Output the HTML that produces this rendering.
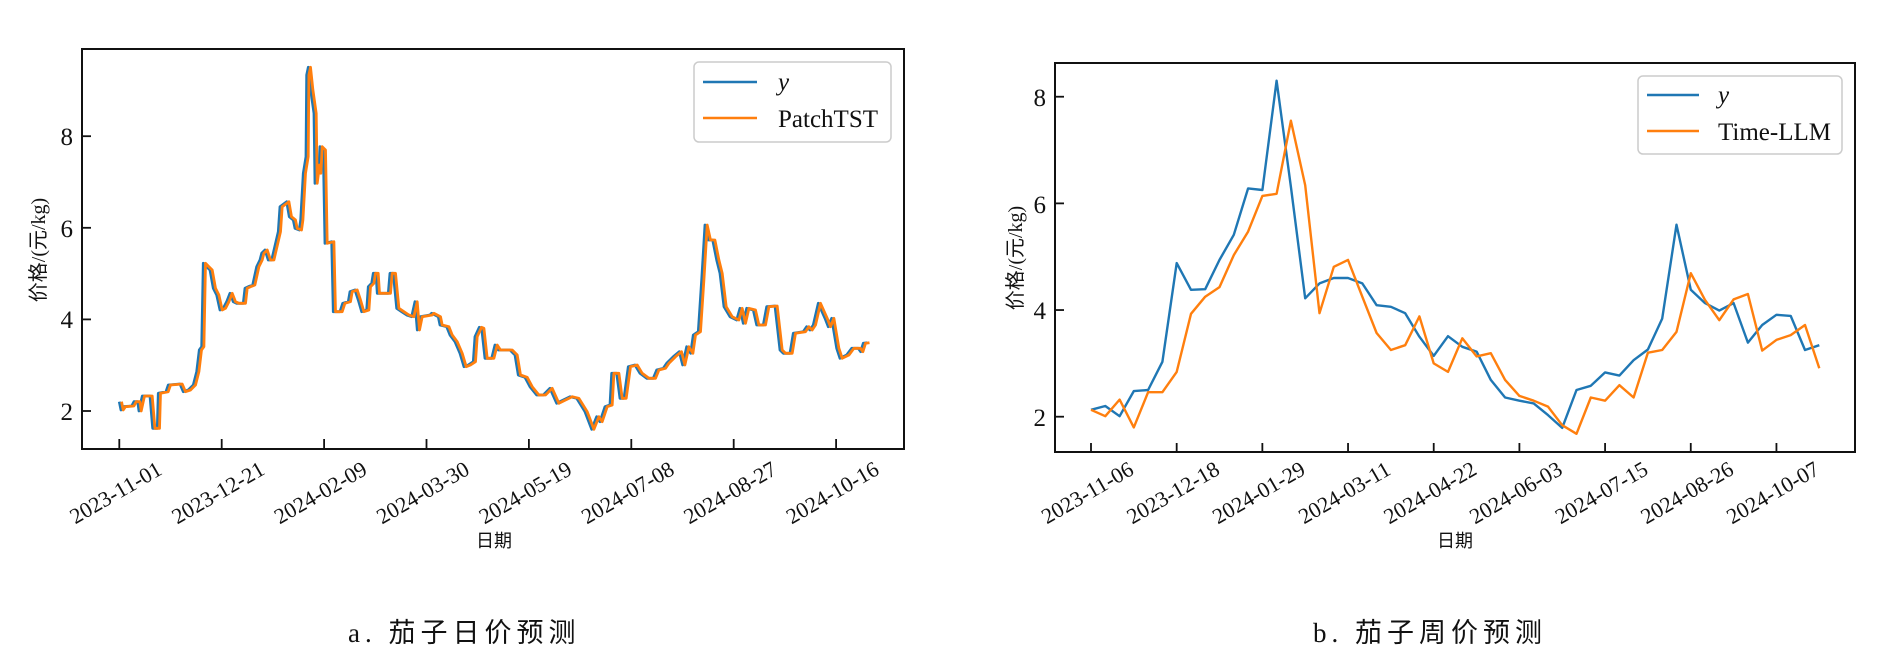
<!DOCTYPE html>
<html><head><meta charset="utf-8">
<style>
html,body{margin:0;padding:0;background:#fff;}
svg{display:block;}
text{font-family:"Liberation Serif","Noto Serif CJK SC",serif;fill:#111;}
.cjk{font-family:"Liberation Serif","Noto Sans CJK SC",sans-serif;}
</style></head>
<body>
<svg id="s" width="1883" height="671" viewBox="0 0 1883 671" xmlns="http://www.w3.org/2000/svg">
<rect width="1883" height="671" fill="#fff"/>
<g id="L">
<polyline id="lb" fill="none" stroke="#1f77b4" stroke-width="2.8" stroke-linejoin="round" points="119.3,401.7 121,410 123.3,406.7 131.7,406 134,401.7 137.7,401.7 139,411 142.3,396 150,396 152.7,428.3 157.3,428.3 158.3,393.3 166,391.7 168.3,385 180,384 183.3,391.7 188.3,390 193.3,385 196.7,371.7 199.3,350 201.7,346.7 203.3,263.3 206.7,266.7 210,270 213.3,288.3 216.7,295 220,310 223.3,308.3 226.7,301.7 230,293.3 233.3,301.7 236.7,303.3 243.3,303.3 245,288.3 248.3,286.7 252.7,285 256.7,266.7 260,260 261.7,253.3 265,250 268.3,260 271.7,260 278.3,231.7 280,206.7 286.7,201.7 289.3,216.7 293.3,220 295,228.3 299.3,230 300.7,220 303.3,173.3 306,156.7 306.7,75 308.3,67.3 310.7,90 314,113.3 315,183.3 317.3,165 318.7,173.3 320,146.7 323.3,150 325,243.3 331.7,241.7 333.3,311.7 340,311.7 342.7,303.3 348.3,301.7 350,291.7 355,290 358.3,300 361.7,311.7 366.7,310 368.3,286.7 371.7,283.3 373.3,273.3 376,273.3 377.3,293.3 388.3,293.3 390,273.3 393.3,273.3 396.7,308.3 401.7,311.7 406.7,315 411.7,316.7 415,301.7 417.3,330 420,316.7 430,315 431.7,313.3 438.3,316.7 440,325 446.7,326.7 450,335 455,341.7 460,353.3 464,366.7 468.3,365 473.3,361.7 475,336.7 479.3,327.3 481.7,328.3 485,358.3 491.7,358.3 495,345 498.3,350 510,350 515,355 518.3,375 525,377.3 530,386.7 536.7,395 543.3,395 550,388.3 556.7,403.3 563.3,400 570,396.7 576.7,398.3 585,411.7 591.7,429.3 596.7,416.7 600,421.7 605,406.7 610,405 611.7,373.3 616.7,373.3 620,398.3 624,398.3 628.3,366.7 635,365 640,373.3 646.7,378.3 653.3,378.3 656.7,370 663.3,368.3 666.7,363.3 673.3,356.7 679.3,351.7 682.7,365 686.7,346.7 690.7,353.3 693.3,335 698.3,331.7 701.7,280 705,225 708.3,240 712.7,240 716.7,260 720,273.3 724,306.7 730,316.7 736.7,320 740,308.3 743.3,323.3 746.7,308.3 753.3,310 756.7,325 763.3,325 766.7,306.7 775,306 780,350 783.3,353.3 790,353.3 793.3,333.3 803.3,331.7 806.7,326.7 810,330 813.3,325 818.3,303.3 825,318.3 828.3,326.7 831.7,318.3 836.7,348.3 840,358.3 846.7,355 851.7,348.3 858.3,348.3 860.7,351.7 863.3,343.3 867.3,342.7"/>
<rect x="82" y="49" width="822" height="400" fill="none" stroke="#111" stroke-width="2"/>
<g id="lticks" stroke="#111" stroke-width="1.8"></g>
<g font-size="25" text-anchor="end">
<text x="73" y="420">2</text><text x="73" y="328">4</text><text x="73" y="237">6</text><text x="73" y="145">8</text>
</g>
<g id="lxl" font-size="22"></g>
<text class="cjk" x="494" y="547" font-size="18" text-anchor="middle">日期</text>
<text class="cjk" font-size="20" text-anchor="middle" transform="translate(45,250) rotate(-90)">价格/(元/kg)</text>
<rect x="694" y="62" width="197" height="80" rx="5" fill="#fff" fill-opacity="0.85" stroke="#ccc" stroke-width="1.5"/>
<line x1="703" y1="82" x2="757" y2="82" stroke="#1f77b4" stroke-width="2.4"/>
<line x1="703" y1="118" x2="757" y2="118" stroke="#ff7f0e" stroke-width="2.4"/>
<text x="778" y="90" font-size="25" font-style="italic">y</text>
<text x="778" y="127" font-size="25">PatchTST</text>
</g>
<g id="R">
<rect x="1055" y="63" width="800" height="389" fill="none" stroke="#111" stroke-width="2"/>
<g id="rticks" stroke="#111" stroke-width="1.8"></g>
<g font-size="25" text-anchor="end">
<text x="1046" y="426">2</text><text x="1046" y="319">4</text><text x="1046" y="213">6</text><text x="1046" y="106">8</text>
</g>
<g id="rxl" font-size="22"></g>
<text class="cjk" x="1455" y="547" font-size="18" text-anchor="middle">日期</text>
<text class="cjk" font-size="20" text-anchor="middle" transform="translate(1022,258) rotate(-90)">价格/(元/kg)</text>
<rect x="1638" y="76" width="204" height="78" rx="5" fill="#fff" fill-opacity="0.85" stroke="#ccc" stroke-width="1.5"/>
<line x1="1647" y1="95" x2="1699" y2="95" stroke="#1f77b4" stroke-width="2.4"/>
<line x1="1647" y1="131" x2="1699" y2="131" stroke="#ff7f0e" stroke-width="2.4"/>
<text x="1718" y="103" font-size="25" font-style="italic">y</text>
<text x="1718" y="140" font-size="25">Time-LLM</text>
</g>
<text class="cjk" x="348" y="642" font-size="27" letter-spacing="5">a. 茄子日价预测</text>
<text class="cjk" x="1313" y="642" font-size="27" letter-spacing="5">b. 茄子周价预测</text>
</svg>
<script>
var NS="http://www.w3.org/2000/svg";
function el(t,a,p){var e=document.createElementNS(NS,t);for(var k in a)e.setAttribute(k,a[k]);p.appendChild(e);return e;}
var lb=document.getElementById('lb');
var lo=lb.cloneNode();lo.setAttribute('stroke','#ff7f0e');lo.setAttribute('transform','translate(2.2,0)');lo.removeAttribute('id');
lb.parentNode.insertBefore(lo,lb.nextSibling);
var lt=document.getElementById('lticks'),lx=document.getElementById('lxl');
var ld=["2023-11-01","2023-12-21","2024-02-09","2024-03-30","2024-05-19","2024-07-08","2024-08-27","2024-10-16"];
for(var k=0;k<8;k++){var x=119.3+102.4*k;el('line',{x1:x,y1:449,x2:x,y2:439},lt);
 var t=el('text',{x:0,y:0,'text-anchor':'middle',transform:'translate('+x+',499) rotate(-30)'},lx);t.textContent=ld[k];}
[2,4,6,8].forEach(function(v){var y=411-(v-2)*45.8;el('line',{x1:82,y1:y,x2:91,y2:y},lt);});
var B=[2.13,2.2,2.01,2.48,2.5,3.03,4.88,4.38,4.39,4.94,5.41,6.28,6.25,8.3,6.31,4.22,4.5,4.6,4.6,4.5,4.09,4.06,3.94,3.5,3.14,3.51,3.31,3.22,2.69,2.36,2.3,2.25,2.03,1.79,2.5,2.58,2.83,2.77,3.06,3.26,3.84,5.6,4.38,4.13,3.99,4.13,3.39,3.72,3.91,3.89,3.25,3.34];
var O=[2.13,2.01,2.32,1.8,2.46,2.46,2.84,3.93,4.25,4.43,5.03,5.47,6.14,6.18,7.55,6.34,3.94,4.81,4.94,4.25,3.57,3.25,3.34,3.88,3.0,2.84,3.47,3.13,3.19,2.69,2.39,2.3,2.19,1.84,1.68,2.36,2.3,2.59,2.36,3.2,3.25,3.59,4.69,4.19,3.81,4.2,4.3,3.24,3.44,3.53,3.72,2.91];
function pts(a){return a.map(function(v,i){return (1091+14.28*i).toFixed(1)+','+(416.7-(v-2)*53.33).toFixed(1);}).join(' ');}
var R=document.getElementById('R'),rr=R.querySelector('rect');
el('polyline',{points:pts(B),fill:'none',stroke:'#1f77b4','stroke-width':2.4,'stroke-linejoin':'round'},R).parentNode.insertBefore(R.lastChild,rr);
el('polyline',{points:pts(O),fill:'none',stroke:'#ff7f0e','stroke-width':2.4,'stroke-linejoin':'round'},R).parentNode.insertBefore(R.lastChild,rr);
var rt=document.getElementById('rticks'),rx=document.getElementById('rxl');
var rd=["2023-11-06","2023-12-18","2024-01-29","2024-03-11","2024-04-22","2024-06-03","2024-07-15","2024-08-26","2024-10-07"];
for(var k=0;k<9;k++){var x=1091+14.28*6*k;el('line',{x1:x,y1:452,x2:x,y2:443},rt);
 var t=el('text',{x:0,y:0,'text-anchor':'middle',transform:'translate('+x+',499) rotate(-30)'},rx);t.textContent=rd[k];}
[2,4,6,8].forEach(function(v){var y=416.7-(v-2)*53.33;el('line',{x1:1055,y1:y,x2:1064,y2:y},rt);});
</script>
</body></html>
